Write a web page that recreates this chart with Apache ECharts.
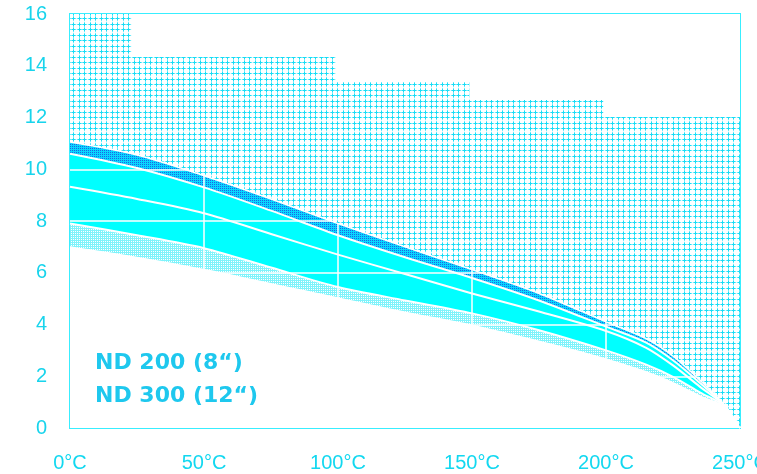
<!DOCTYPE html>
<html>
<head>
<meta charset="utf-8">
<script src="https://cdn.jsdelivr.net/npm/echarts@6/dist/echarts.min.js"></script>
<style>
  html, body { margin: 0; padding: 0; background: #ffffff; }
  #chart { width: 757px; height: 474px; }
</style>
</head>
<body>
<div id="chart"></div>
<script>
// Temperature sampling points (°C) shared by all band curves
const temps = [0, 25, 50, 75, 100, 125, 150, 175, 200, 215, 225, 235, 245, 250];

// Band boundaries, from top to bottom
const edgeTop    = [11.05, 10.55, 9.75, 8.85, 7.9, 7.0, 6.12, 5.2, 4.1, 3.45, 2.78, 1.85, 0.8, 0];
const edgeUpper  = [10.6, 10.05, 9.3, 8.4, 7.45, 6.6, 5.8, 4.93, 3.92, 3.3, 2.62, 1.75, 0.8, 0];
const edgeMiddle = [9.32, 8.85, 8.3, 7.5, 6.7, 5.95, 5.2, 4.5, 3.75, 3.1, 2.42, 1.6, 0.8, 0];
const edgeLower  = [7.9, 7.45, 6.95, 6.2, 5.45, 4.93, 4.43, 3.78, 3.0, 2.45, 1.98, 1.38, 0.8, 0];
const edgeBottom = [7.02, 6.62, 6.15, 5.6, 5.05, 4.5, 4.0, 3.38, 2.7, 2.2, 1.78, 1.28, 0.8, 0];

// Stepped upper limit of the hatched region
const limitTemps  = [0, 23, 23, 99, 99, 149, 149, 199, 199, 250];
const limitValues = [16, 16, 14.34, 14.34, 13.37, 13.37, 12.68, 12.68, 12.02, 12.02];

// Axis ranges and grid positions
const yMin = 0, yMax = 16, yStep = 2;
const xMin = 0, xMax = 250, xStep = 50;
const gridY = [2, 4, 6, 8, 10, 12, 14];
const gridX = [50, 100, 150, 200];

// Labels inside the plot
const bandLabels = ['ND 200 (8\u201C)', 'ND 300 (12\u201C)'];

const CYAN = '#00ffff';
const TEXT_CYAN = '#18d4ec';
const AXIS_CYAN = '#38eeff';

function makeTile(w, h, draw) {
  const c = document.createElement('canvas');
  c.width = w; c.height = h;
  const g = c.getContext('2d');
  draw(g);
  return { image: c, repeat: 'repeat' };
}

// Cyan crosses on white
const hatchFill = makeTile(11, 11, g => {
  g.fillStyle = '#ffffff'; g.fillRect(0, 0, 11, 11);
  g.fillStyle = '#dcfbfe';
  [2, 7].forEach(p => { g.fillRect(p, 0, 1, 11); g.fillRect(0, p, 11, 1); });
  [2, 7].forEach(cx => [2, 7].forEach(cy => {
    g.fillStyle = '#6aebfa';
    g.fillRect(cx - 2, cy, 5, 1); g.fillRect(cx, cy - 2, 1, 5);
    g.fillStyle = '#18dcf6';
    g.fillRect(cx - 1, cy, 3, 1); g.fillRect(cx, cy - 1, 1, 3);
  }));
});

// Cyan with blue dots
const darkFill = makeTile(2, 2, g => {
  g.fillStyle = '#08d6ff'; g.fillRect(0, 0, 2, 2);
  g.fillStyle = '#1a68e4'; g.fillRect(0, 0, 1, 1);
});

// Pale cyan with white dots
const paleFill = makeTile(2, 2, g => {
  g.fillStyle = '#7ef3fb'; g.fillRect(0, 0, 2, 2);
  g.fillStyle = '#ffffff'; g.fillRect(1, 1, 1, 1);
});

const pairs = (xs, ys) => xs.map((x, i) => [x, ys[i]]);

function bandSeries(values, fill, lineWidth, extra) {
  return Object.assign({
    type: 'line',
    data: pairs(temps, values),
    smooth: 0.3,
    symbol: 'none',
    silent: true,
    lineStyle: { color: '#ffffff', width: lineWidth },
    areaStyle: fill ? { color: fill, opacity: 1 } : undefined
  }, extra || {});
}

const chart = echarts.init(document.getElementById('chart'), null, { renderer: 'canvas' });

chart.setOption({
  animation: false,
  backgroundColor: '#ffffff',
  grid: {
    left: 70, right: 17, top: 14, bottom: 46,
    outerBoundsMode: 'none',
    containLabel: false,
    show: true, borderColor: AXIS_CYAN, borderWidth: 2, backgroundColor: 'transparent'
  },
  xAxis: {
    type: 'value', min: xMin, max: xMax, interval: xStep,
    axisLine: { show: true, lineStyle: { color: AXIS_CYAN, width: 2 } },
    axisTick: { show: false },
    splitLine: { show: false },
    axisLabel: {
      margin: 25,
      fontFamily: 'Liberation Sans', fontSize: 20, color: '#12d8f0',
      textShadowColor: '#e0108a', textShadowOffsetY: 2, textShadowBlur: 0,
      formatter: v => v + '°C',
      showMaxLabel: true
    }
  },
  yAxis: {
    type: 'value', min: yMin, max: yMax, interval: yStep,
    axisLine: { show: true, lineStyle: { color: AXIS_CYAN, width: 2 } },
    axisTick: { show: false },
    splitLine: { show: false },
    axisLabel: { margin: 23, fontFamily: 'Liberation Sans', fontSize: 20, color: TEXT_CYAN }
  },
  series: [
    // Bands, painted top-down so each lower band covers the one above it
    bandSeries(edgeTop, darkFill, 0),
    bandSeries(edgeUpper, CYAN, 2),
    bandSeries(edgeLower, paleFill, 2),
    bandSeries(edgeBottom, '#ffffff', 0),
    bandSeries(edgeMiddle, null, 2),
    // White grid lines over the bands
    {
      type: 'line',
      data: [],
      symbol: 'none', silent: true,
      markLine: {
        silent: true, symbol: 'none', animation: false,
        label: { show: false },
        lineStyle: { color: '#ffffff', width: 1.5, type: 'solid' },
        data: gridY.map(v => ({ yAxis: v })).concat(gridX.map(v => ({ xAxis: v })))
      }
    },
    // Hatched region above the bands
    bandSeries(edgeTop, hatchFill, 1.5, {
      z: 10,
      areaStyle: { color: hatchFill, opacity: 1, origin: 'end' }
    }),
    // Blank area above the stepped limit
    {
      type: 'line',
      data: pairs(limitTemps, limitValues),
      symbol: 'none', silent: true, z: 11,
      lineStyle: { width: 0 },
      areaStyle: { color: '#ffffff', opacity: 1, origin: 'end' }
    }
  ],
  graphic: bandLabels.map((t, i) => ({
    type: 'text',
    x: 95, y: 363 + i * 33,
    z: 20,
    style: {
      text: t,
      font: 'bold 22px "DejaVu Sans"',
      fill: '#1ec8ee',
      verticalAlign: 'middle'
    }
  }))
});
</script>
</body>
</html>
